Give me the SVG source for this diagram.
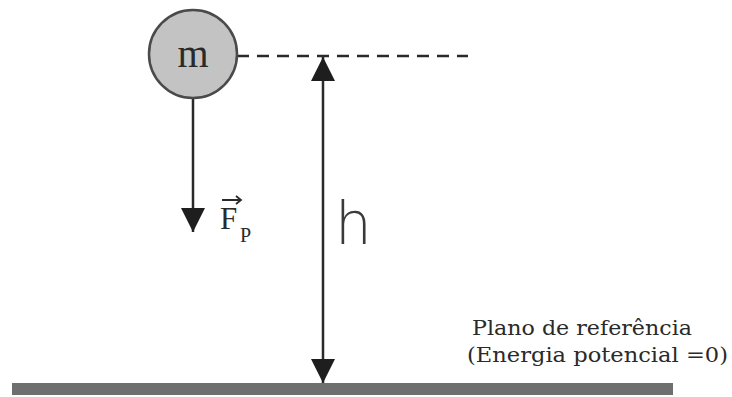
<svg xmlns="http://www.w3.org/2000/svg" width="732" height="397" viewBox="0 0 732 397">
<style>
.ln{stroke:#2a2a2a;stroke-width:2.5;fill:none}
.serif{font-family:"DejaVu Serif","Liberation Serif",serif;fill:#2a2a2a}
</style>
<defs>
<marker id="ah" viewBox="0 0 10 10" refX="10" refY="5" markerWidth="24" markerHeight="24" markerUnits="userSpaceOnUse" orient="auto-start-reverse">
<path d="M0,0 L10,5 L0,10 z" fill="#1e1e1e"/>
</marker>
</defs>
<rect width="732" height="397" fill="#fff"/>
<g id="ground">
<rect x="12" y="383" width="661" height="12" fill="#6f6f6f"/>
</g>
<g id="connectors">
<line x1="237" y1="56" x2="468" y2="56" stroke="#2a2a2a" stroke-width="2.5" stroke-dasharray="12,8"/>
<line class="ln" x1="193" y1="99" x2="193" y2="232" marker-end="url(#ah)"/>
<line class="ln" x1="323" y1="57" x2="323" y2="383" marker-start="url(#ah)" marker-end="url(#ah)"/>
</g>
<g id="mass">
<circle cx="193" cy="54" r="44" fill="#c3c3c3" stroke="#4a4a4a" stroke-width="2.5"/>
<text x="193" y="67" font-size="40" text-anchor="middle" font-family="Liberation Serif, serif" fill="#2a2a2a">m</text>
</g>
<g id="force-label">
<text x="220" y="229" font-family="Liberation Serif, serif" font-size="31" fill="#2a2a2a">F</text>
<text x="240" y="242" font-family="Liberation Serif, serif" font-size="20" fill="#2a2a2a">P</text>
<path d="M222 200 H241 M236 196 L241 200 L236 204" stroke="#2a2a2a" stroke-width="1.8" fill="none"/>
</g>
<g id="h-label">
<text x="335" y="244" font-family="DejaVu Sans, sans-serif" font-size="58" font-weight="200" fill="#3a3a3a">h</text>
</g>
<g id="plane-label">
<text class="serif" x="472" y="335" font-size="21" textLength="220" lengthAdjust="spacingAndGlyphs">Plano de referência</text>
<text class="serif" x="467" y="362" font-size="21" textLength="261" lengthAdjust="spacingAndGlyphs">(Energia potencial =0)</text>
</g>
</svg>
